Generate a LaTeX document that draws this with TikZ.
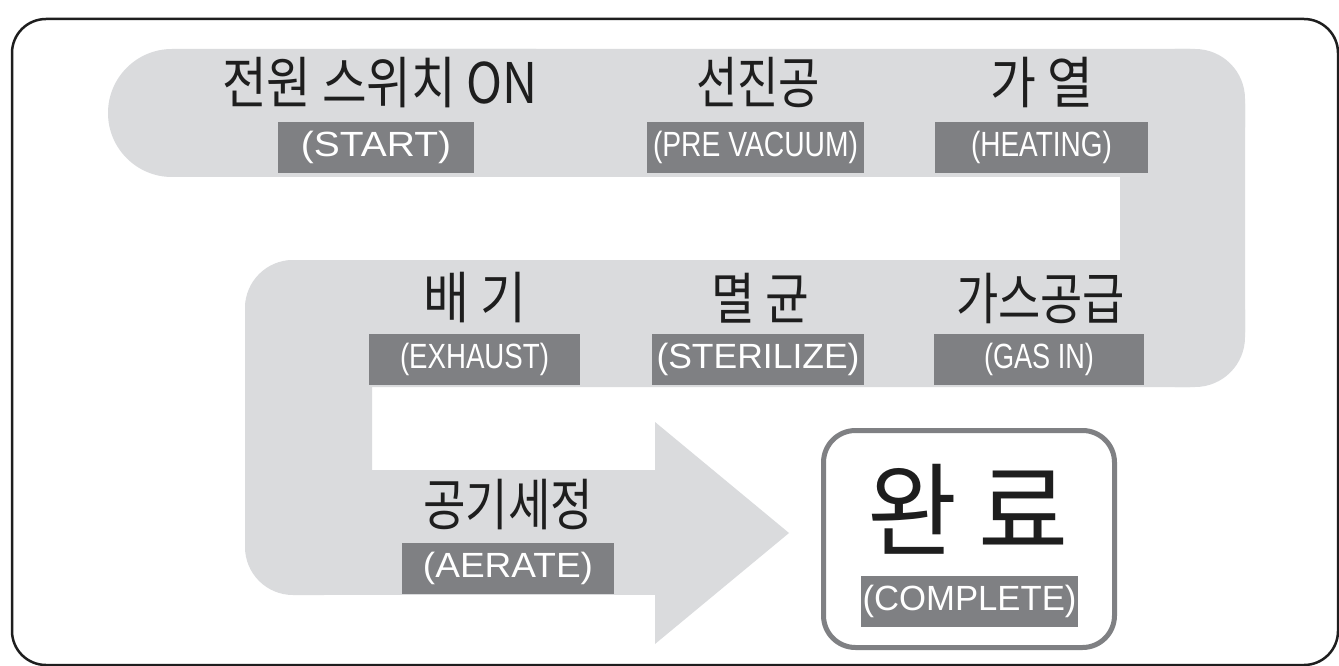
\documentclass[tikz,border=0pt]{standalone}
\usepackage{fontspec}
\usepackage{graphicx}
\newfontfamily\krfont{Noto Sans CJK KR}
\newfontfamily\lafont{Liberation Sans}
\definecolor{band}{RGB}{218,219,221}
\definecolor{lblgray}{RGB}{127,128,131}
\definecolor{ink}{RGB}{30,30,30}
\newcommand{\kw}[2]{\resizebox{#1pt}{\height}{#2}}
\begin{document}
\begin{tikzpicture}[x=1pt,y=-1pt,
  ktxt/.style={inner sep=0pt, text=ink, font=\krfont\fontsize{56}{60}\selectfont},
  lbl/.style={fill=lblgray, text=white, inner sep=0pt, minimum height=51pt, font=\lafont\fontsize{35}{40}\selectfont},
  bandpart/.style={fill=band}]
\useasboundingbox (0,0) rectangle (1339,666);
\fill[white] (0,0) rectangle (1339,666);
% outer frame
\draw[ink, line width=2.5pt, rounded corners=34] (12,19) rectangle (1338,665);
% snake band
\fill[bandpart, rounded corners=64] (108,49) rectangle (600,177);
\fill[bandpart, rounded corners=50] (300,49) rectangle (1245,177);
\fill[bandpart, rounded corners=55] (1120,49) rectangle (1245,387);
\fill[bandpart, rounded corners=50] (245,260) rectangle (1245,387);
\fill[bandpart, rounded corners=48] (245,260) rectangle (372,595);
\fill[bandpart] (300,470) rectangle (656,595);
\fill[bandpart] (655,422) -- (789,533) -- (655,644) -- cycle;
% complete box
\node[draw=lblgray, line width=5pt, rounded corners=32, minimum width=291pt, minimum height=217pt, fill=white] (done) at (969,539) {};
% Korean titles
\node[ktxt] (t1) at (380,82.5) {\kw{316}{전원 스위치 ON}};
\node[ktxt] (t2) at (758,82.5) {\kw{124}{선진공}};
\node[ktxt] (t3) at (1041.5,82.5) {\kw{103}{가 열}};
\node[ktxt] (t4) at (474.5,298) {\kw{103}{배 기}};
\node[ktxt] (t5) at (760,298) {\kw{98}{멸 균}};
\node[ktxt] (t6) at (1040.5,298) {\kw{169}{가스공급}};
\node[ktxt] (t7) at (508,505) {\kw{170}{공기세정}};
\node[ktxt, font=\krfont\fontsize{102}{110}\selectfont] (t8) at (968,509) {\kw{202}{완 료}};
% English labels
\node[lbl, minimum width=196pt] (l1) at (376,147.5) {\kw{150}{(START)}};
\node[lbl, minimum width=217pt] (l2) at (755.5,147.5) {\kw{205}{(PRE VACUUM)}};
\node[lbl, minimum width=213pt] (l3) at (1041.5,147.5) {\kw{141}{(HEATING)}};
\node[lbl, minimum width=211pt] (l4) at (474.5,359.5) {\kw{149}{(EXHAUST)}};
\node[lbl, minimum width=212pt] (l5) at (758,359.5) {\kw{203}{(STERILIZE)}};
\node[lbl, minimum width=210pt] (l6) at (1039,359.5) {\kw{110}{(GAS IN)}};
\node[lbl, minimum width=212pt] (l7) at (508,568) {\kw{170}{(AERATE)}};
\node[lbl, minimum width=217pt] (l8) at (969.5,601.5) {\kw{214}{(COMPLETE)}};
\end{tikzpicture}
\end{document}
